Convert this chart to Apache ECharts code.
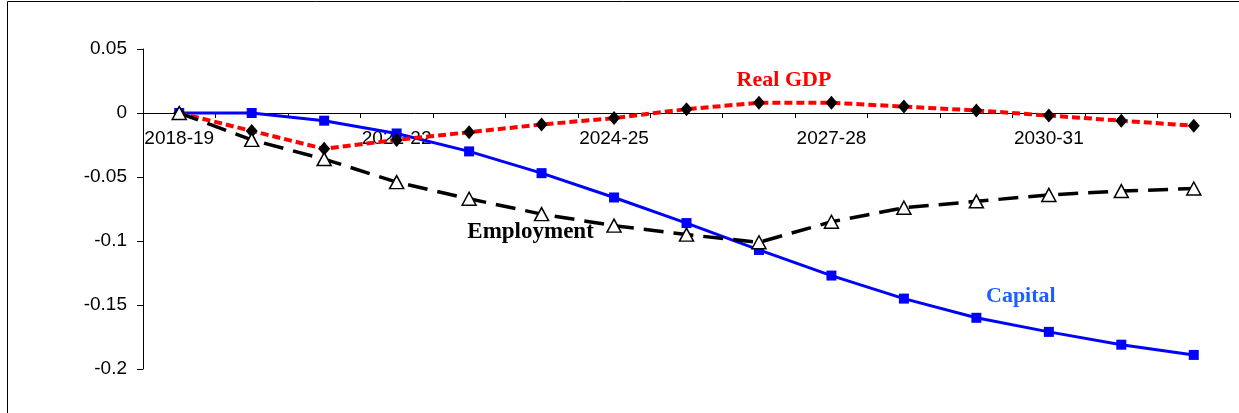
<!DOCTYPE html>
<html>
<head>
<meta charset="utf-8">
<script src="https://cdn.jsdelivr.net/npm/echarts@6/dist/echarts.min.js"></script>
<style>
html,body{margin:0;padding:0;background:#fff;}
#c{width:1239px;height:413px;}
</style>
</head>
<body>
<div id="c"></div>
<script>
const categories = ['2018-19','2019-20','2020-21','2021-22','2022-23','2023-24','2024-25','2025-26','2026-27','2027-28','2028-29','2029-30','2030-31','2031-32','2032-33'];
const realGDP    = [0, -0.014, -0.028, -0.021, -0.015, -0.009, -0.004, 0.003, 0.008, 0.008, 0.005, 0.002, -0.002, -0.006, -0.010];
const capital    = [0, 0, -0.006, -0.016, -0.030, -0.047, -0.066, -0.086, -0.107, -0.127, -0.145, -0.160, -0.171, -0.181, -0.189];
const employment = [0, -0.021, -0.036, -0.054, -0.067, -0.079, -0.088, -0.095, -0.101, -0.085, -0.074, -0.069, -0.064, -0.061, -0.059];
const yTicks = [-0.2, -0.15, -0.1, -0.05, 0, 0.05];

const labelFont = {fontFamily:'Liberation Serif', fontWeight:'bold', fontSize:22};
function withLabel(arr, idx, text, color, offset, size){
  return arr.map((v,i)=> i===idx ? {value:v, label:Object.assign({show:true, formatter:text, color:color, position:'inside', offset:offset}, labelFont, size?{fontSize:size}:{})} : v);
}

const gridBottom = 44;
const chart = echarts.init(document.getElementById('c'), null, {renderer:'canvas'});
const option = {
  animation:false,
  backgroundColor:'#fff',
  grid:{left:143, right:9, top:49, bottom:gridBottom, containLabel:false},
  xAxis:{
    type:'category', data:categories, boundaryGap:true, offset:0,
    axisLine:{onZero:false, lineStyle:{color:'#000', width:1}},
    axisTick:{show:true, interval:0, length:5, inside:false, lineStyle:{color:'#000'}},
    axisLabel:{interval:2, margin:16, color:'#000', fontFamily:'Liberation Sans', fontSize:19},
    splitLine:{show:false}
  },
  yAxis:{
    type:'value', min:yTicks[0], max:yTicks[yTicks.length-1], interval:0.05,
    axisLine:{show:true, lineStyle:{color:'#000', width:1}},
    axisTick:{show:true, length:6, lineStyle:{color:'#000'}},
    axisLabel:{margin:16, color:'#000', fontFamily:'Liberation Sans', fontSize:19,
      formatter:v=>String(+(+v).toFixed(2))},
    splitLine:{show:false}
  },
  graphic:[{type:'rect', shape:{x:7.5, y:1.5, width:1400, height:600}, style:{fill:null, stroke:'#000', lineWidth:1}, silent:true}],
  series:[
    {name:'Capital', type:'line', data:withLabel(capital, 12, 'Capital', '#1F5FFF', [-28,-36]),
     symbol:'rect', symbolSize:10, showAllSymbol:true,
     lineStyle:{color:'#0000FF', width:3}, itemStyle:{color:'#0000FF'}, z:2},
    {name:'Real GDP', type:'line', data:withLabel(realGDP, 8, 'Real GDP', '#FF0000', [25,-22]),
     symbol:'diamond', symbolSize:[12,14], showAllSymbol:true,
     lineStyle:{color:'#FF0000', width:4, type:[8,4]}, itemStyle:{color:'#000'}, z:3},
    {name:'Employment', type:'line', data:withLabel(employment, 5, 'Employment', '#000', [-11,18], 23),
     symbol:'triangle', symbolSize:[14,13], showAllSymbol:true,
     lineStyle:{color:'#000', width:3.5, type:[20,10]}, itemStyle:{color:'#fff', borderColor:'#000', borderWidth:1.5}, z:4}
  ]
};
chart.setOption(option);
// place the category axis on the zero line of the value axis
const zeroY = chart.convertToPixel({yAxisIndex:0}, 0);
const bottomY = 413 - gridBottom;
chart.setOption({xAxis:{offset: zeroY - bottomY}});
</script>
</body>
</html>
